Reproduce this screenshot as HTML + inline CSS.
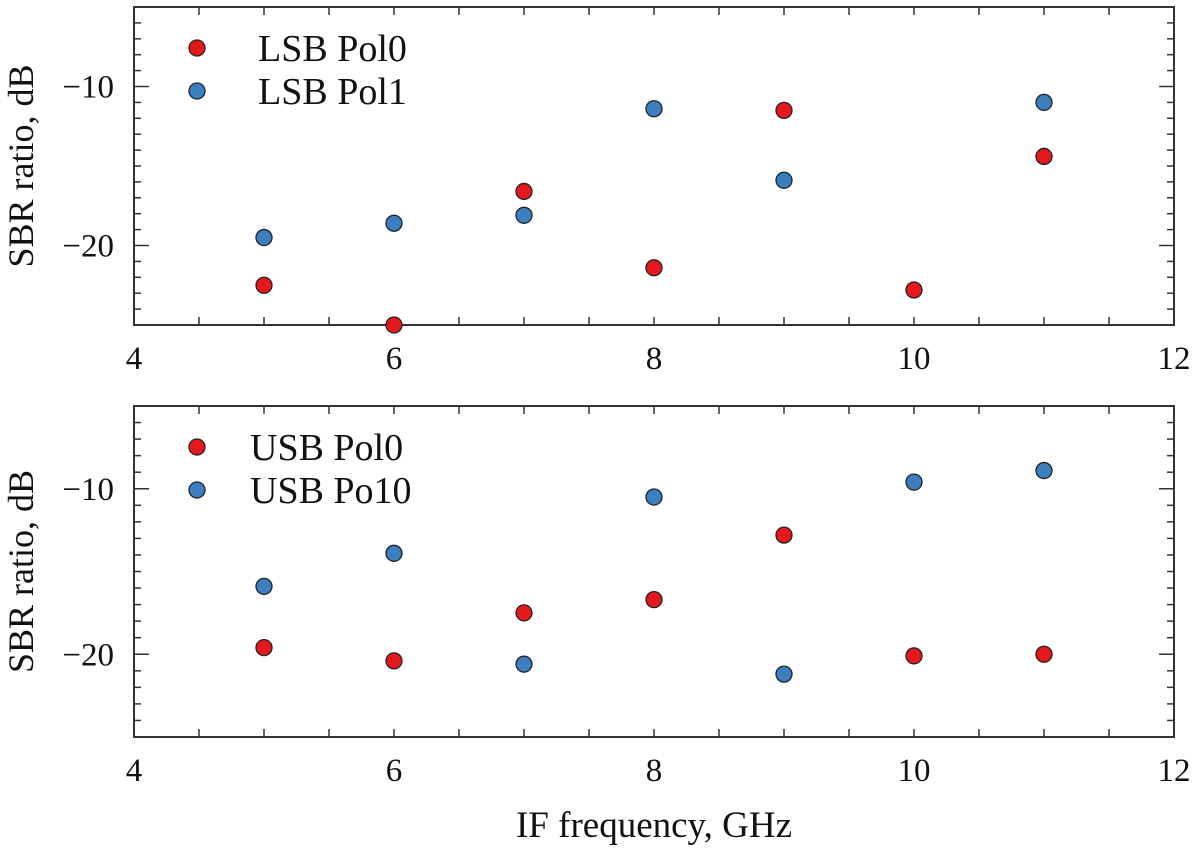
<!DOCTYPE html>
<html><head><meta charset="utf-8"><style>
body{margin:0;background:#fff}
svg text{font-family:"Liberation Serif",serif;fill:#111}
</style></head><body>
<svg id="c" width="1200" height="851" viewBox="0 0 1200 851" xmlns="http://www.w3.org/2000/svg"></svg>
<script>
const freqs=[5,6,7,8,9,10,11];
const lsbPol0=[-22.5,-25,-16.6,-21.4,-11.5,-22.8,-14.4];
const lsbPol1=[-19.5,-18.6,-18.1,-11.4,-15.9,null,-11.0];
const usbPol0=[-19.6,-20.4,-17.5,-16.7,-12.8,-20.1,-20.0];
const usbPol1=[-15.9,-13.9,-20.6,-10.5,-21.2,-9.6,-8.9];
const xTicks=[4,6,8,10,12];
const yTicks=[-10,-20];
const legendTop=["LSB Pol0","LSB Pol1"];
const legendBot=["USB Pol0","USB Po10"];
const NS="http://www.w3.org/2000/svg";
const svg=document.getElementById('c');
function mk(t,a,p){const e=document.createElementNS(NS,t);for(const k in a)e.setAttribute(k,a[k]);(p||svg).appendChild(e);return e;}
const L=134,R=1174,xmin=4,xmax=12,ymin=-25,ymax=-5;
function panel(top,bot,s0,s1,leg,name){
  const g=mk('g',{});
  
  
  const X=v=>L+(v-xmin)/(xmax-xmin)*(R-L);
  const Y=v=>bot-(v-ymin)/(ymax-ymin)*(bot-top);
  for(let v=4.5;v<12;v+=0.5){
    const t1=mk('line',{x1:X(v),x2:X(v),y1:bot,y2:bot-8,stroke:'#333','stroke-width':1.5},g);
    
    mk('line',{x1:X(v),x2:X(v),y1:top,y2:top+8,stroke:'#333','stroke-width':1.5},g);
  }
  for(let v=-24;v<=-6;v++){
    const len=(v%10===0)?15:7;
    mk('line',{x1:L,x2:L+len,y1:Y(v),y2:Y(v),stroke:'#333','stroke-width':1.5},g);
    mk('line',{x1:R,x2:R-len,y1:Y(v),y2:Y(v),stroke:'#333','stroke-width':1.5},g);
  }
  const fr=mk('rect',{x:L,y:top,width:R-L,height:bot-top,fill:'none',stroke:'#333','stroke-width':2},g);
  
  xTicks.forEach(v=>{const t=mk('text',{x:X(v),y:bot+44,'text-anchor':'middle','font-size':33},g);t.textContent=v;
    });
  yTicks.forEach(v=>{const t=mk('text',{x:L-20,y:Y(v)+11,'text-anchor':'end','font-size':33},g);t.textContent='\u2212'+Math.abs(v);
    });
  const yt=mk('text',{x:0,y:0,'text-anchor':'middle','font-size':36,transform:`translate(33,${(top+bot)/2}) rotate(-90)`},g);
  yt.textContent='SBR ratio, dB';
  
  const cols=['#e5191d','#3b7fc0'];
  [s0,s1].forEach((s,i)=>{s.forEach((v,j)=>{if(v===null)return;
    const c=mk('circle',{cx:X(freqs[j]),cy:Y(v),r:8,fill:cols[i],stroke:'#222','stroke-width':1.3},g);
    });});
  leg.forEach((l,i)=>{const ly=top+41+i*43;
    const c=mk('circle',{cx:197,cy:ly,r:8,fill:cols[i],stroke:'#222','stroke-width':1.3},g);
    
    const t=mk('text',{x:name==='top-panel'?258:250,y:ly+13,'font-size':38},g);t.textContent=l;
    });
}
panel(7,325,lsbPol0,lsbPol1,legendTop,'top-panel');
panel(406,737,usbPol0,usbPol1,legendBot,'bottom-panel');
const xt=mk('text',{x:654,y:837,'text-anchor':'middle','font-size':37});
xt.textContent='IF frequency, GHz';


</script>
</body></html>
